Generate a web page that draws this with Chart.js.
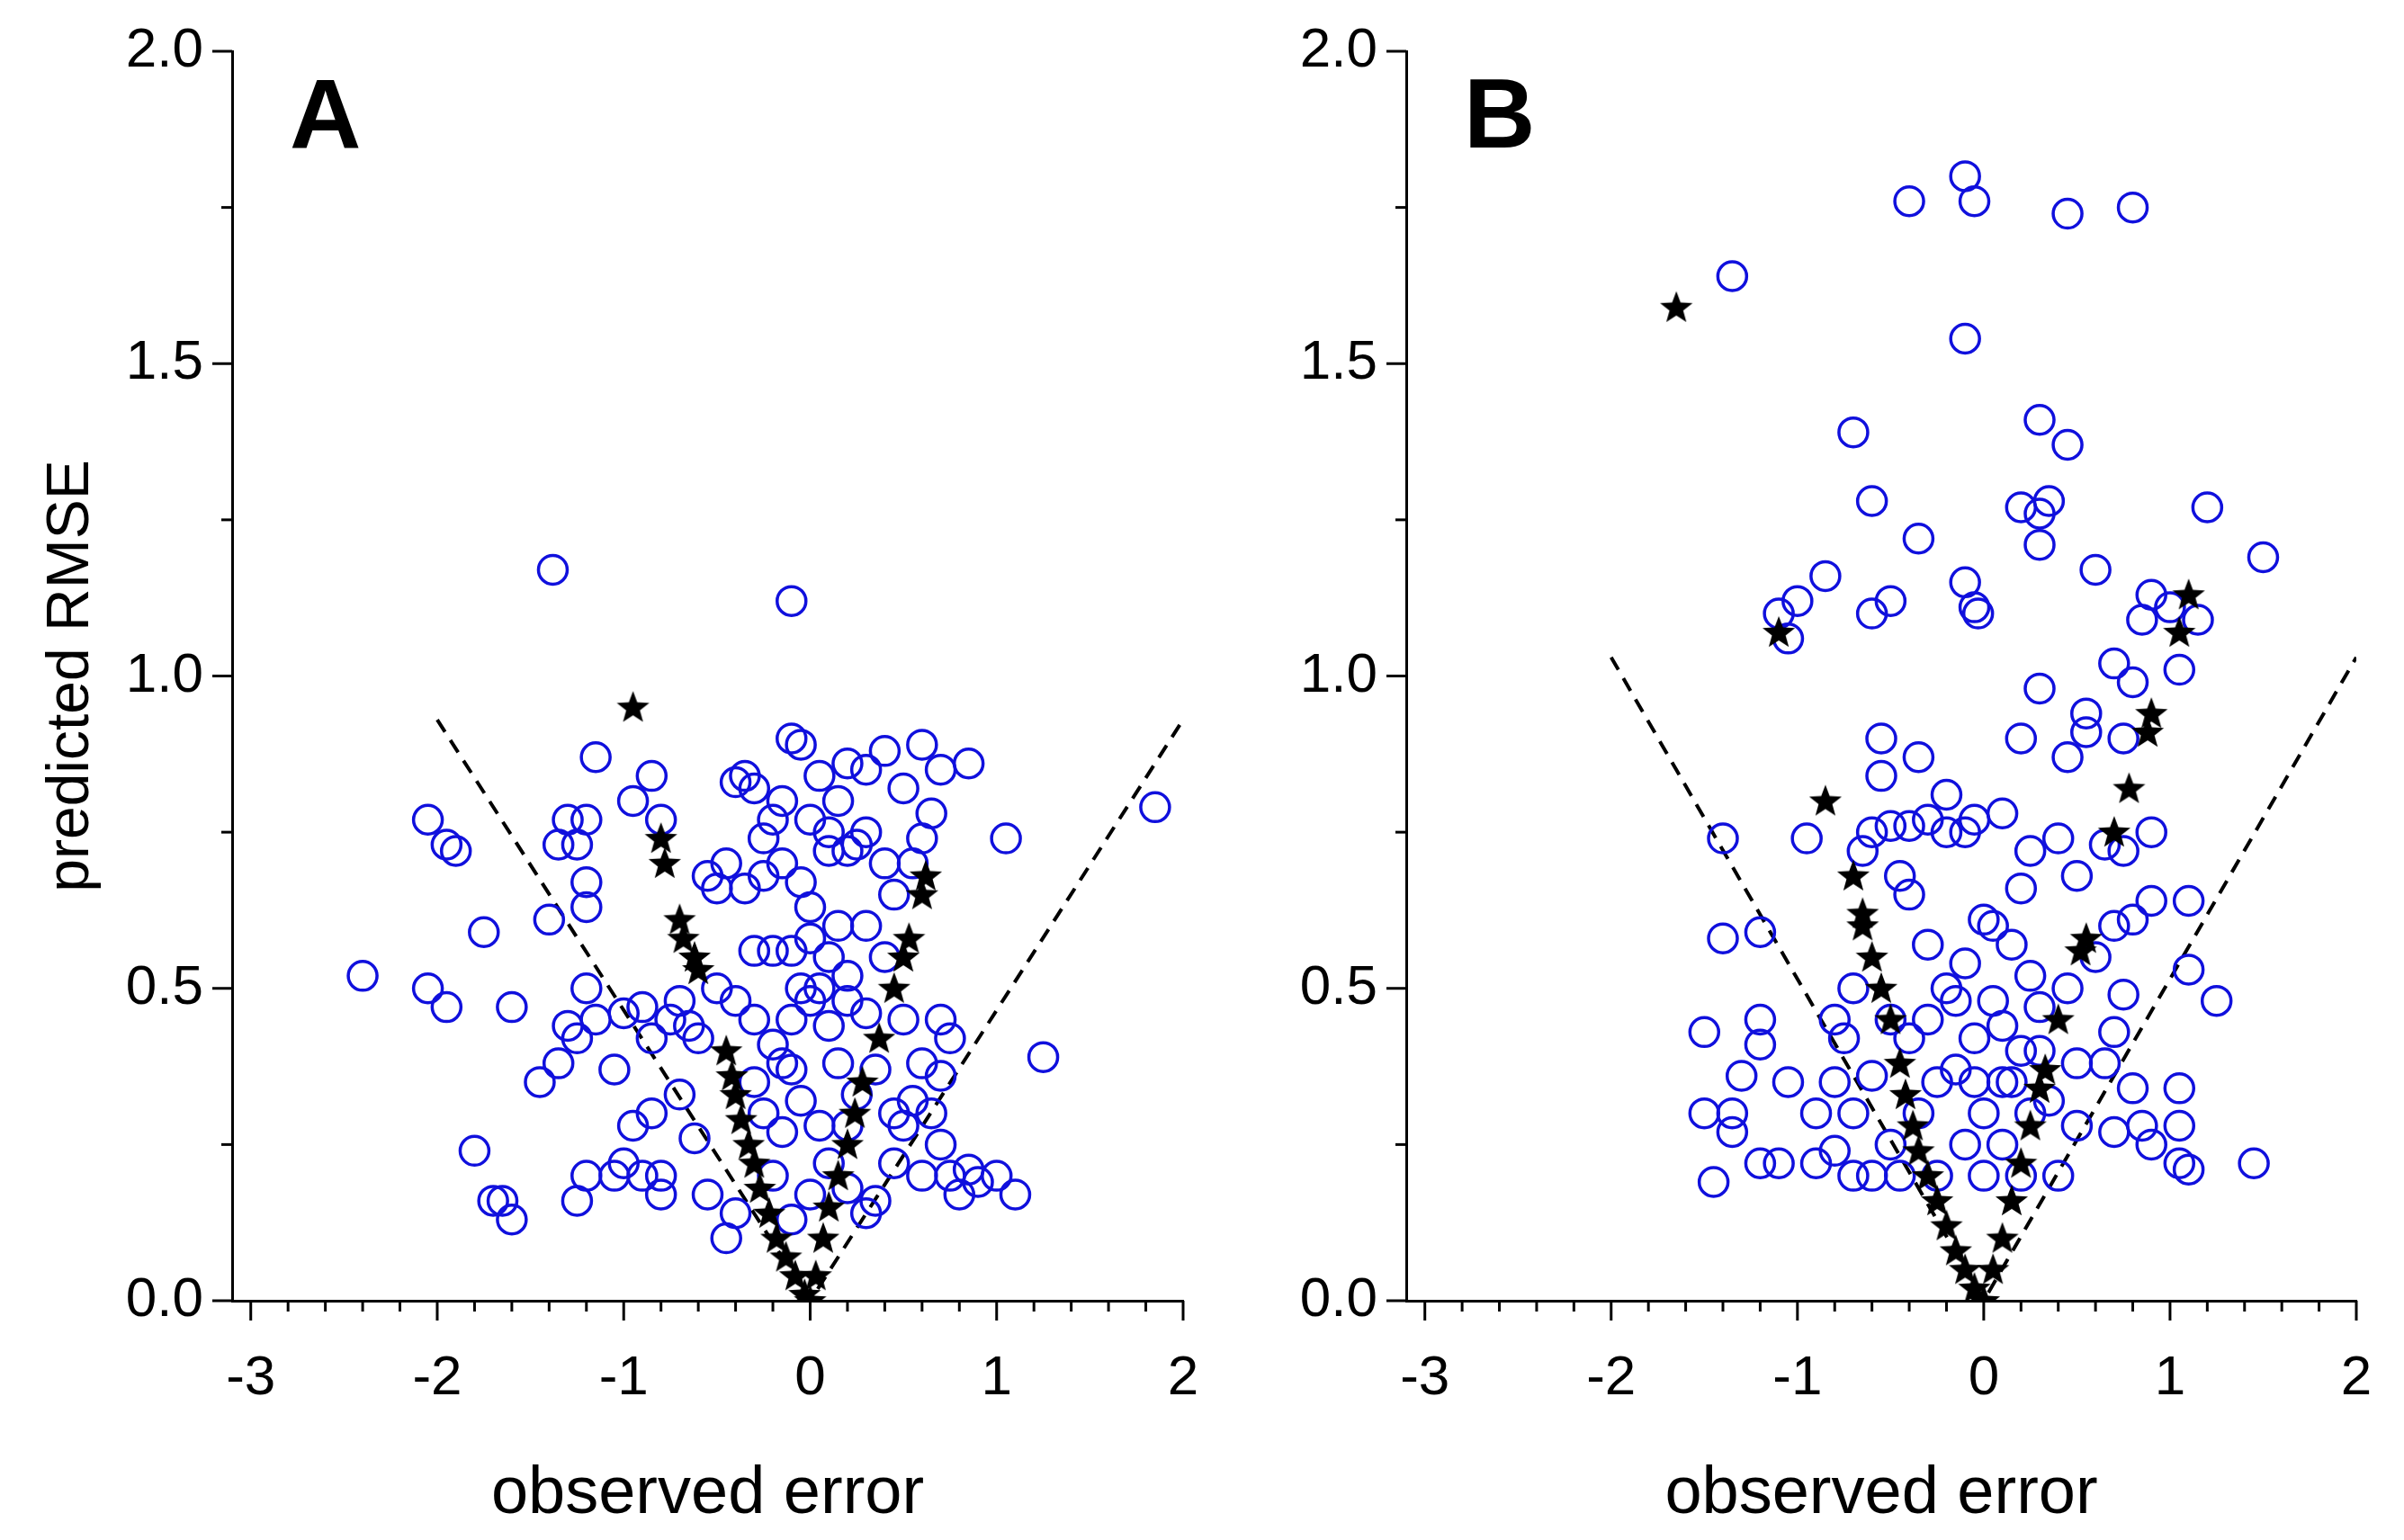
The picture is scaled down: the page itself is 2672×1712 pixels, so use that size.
<!DOCTYPE html>
<html>
<head>
<meta charset="utf-8">
<script src="https://cdn.jsdelivr.net/npm/chart.js@4.4.0/dist/chart.umd.min.js"></script>
<style>
  body { margin:0; background:#fff; }
  .panel { position:absolute; top:0; width:1336px; height:1712px; }
</style>
</head>
<body>
<div class="panel" style="left:0"><canvas id="chartA"></canvas></div>
<div class="panel" style="left:1336px"><canvas id="chartB"></canvas></div>
<script>
// panel A: open circles [observed error, predicted RMSE]
const circlesA = [
  [-1.38,1.17],[-0.1,1.12],[1.85,0.79],[-2.4,0.52],[-2.05,0.77],[-1.95,0.73],[-1.9,0.72],[-2.05,0.5],[-1.95,0.47],
  [-1.75,0.59],[-1.6,0.47],[-1.8,0.24],[-1.7,0.16],[-1.6,0.13],[-1.65,0.16],[-1.45,0.35],[-1.4,0.61],[-1.35,0.73],
  [-1.3,0.77],[-1.2,0.77],[-1.25,0.73],[-1.15,0.87],[-1.2,0.67],[-1.2,0.63],[-1.3,0.44],[-1.25,0.42],[-1.35,0.38],
  [-1.2,0.5],[-1.15,0.45],[-1.05,0.37],[-1.25,0.16],[-1.2,0.2],[-1.05,0.2],[-1.0,0.22],[-0.9,0.2],[-0.8,0.17],
  [-0.8,0.2],[-0.95,0.8],[-0.85,0.84],[-0.8,0.77],[-0.75,0.45],[-0.7,0.48],[-0.65,0.44],[-0.6,0.42],[-0.7,0.33],
  [-0.62,0.26],[-0.55,0.17],[-0.45,0.1],[-0.4,0.14],[-0.5,0.66],[-0.55,0.68],[-0.45,0.7],[-0.4,0.83],[-0.35,0.84],
  [-0.3,0.82],[-0.25,0.74],[-0.2,0.77],[-0.15,0.8],[-0.1,0.9],[-0.05,0.89],[0.0,0.77],[0.05,0.84],[0.1,0.75],
  [0.15,0.8],[0.2,0.86],[0.3,0.85],[0.4,0.88],[0.5,0.82],[0.6,0.89],[0.7,0.85],[0.65,0.78],[0.6,0.74],[0.55,0.7],
  [0.45,0.65],[0.4,0.7],[0.3,0.75],[0.25,0.73],[0.2,0.72],[0.1,0.72],[0.0,0.63],[-0.05,0.67],[-0.15,0.7],
  [-0.25,0.68],[-0.35,0.66],[-0.3,0.56],[-0.2,0.56],[-0.1,0.56],[0.0,0.58],[0.1,0.55],[0.2,0.52],[0.3,0.6],
  [0.4,0.55],[0.5,0.45],[0.6,0.38],[0.7,0.45],[0.75,0.42],[0.7,0.36],[0.65,0.3],[0.7,0.25],[0.75,0.2],[0.8,0.17],
  [0.85,0.21],[0.9,0.19],[1.0,0.2],[1.1,0.17],[1.25,0.39],[1.05,0.74],[0.85,0.86],[0.6,0.2],[0.5,0.28],[0.45,0.22],
  [0.35,0.16],[0.3,0.14],[0.2,0.18],[0.1,0.22],[0.0,0.17],[-0.1,0.13],[-0.2,0.2],[-0.25,0.3],[-0.3,0.35],
  [-0.2,0.41],[-0.1,0.45],[0.0,0.48],[0.1,0.44],[0.15,0.38],[0.25,0.33],[-0.05,0.32],[-0.15,0.27],[0.05,0.28],
  [-0.4,0.48],[-0.5,0.5],[-0.85,0.42],[-0.9,0.47],[-1.0,0.46],[-0.95,0.28],[-0.85,0.3],[-0.1,0.37],[0.2,0.28],
  [0.35,0.37],[0.45,0.3],[0.55,0.32],[0.3,0.46],[0.2,0.48],[0.15,0.6],[-0.05,0.5],[0.05,0.5],[-0.3,0.45],[-0.15,0.38]
];
const starsA = [
  [-0.95,0.95],[-0.8,0.74],[-0.78,0.7],[-0.7,0.61],[-0.68,0.58],[-0.62,0.55],[-0.6,0.53],[-0.45,0.4],[-0.42,0.36],
  [-0.4,0.33],[-0.37,0.29],[-0.33,0.25],[-0.3,0.22],[-0.27,0.18],[-0.22,0.14],[-0.18,0.1],[-0.13,0.07],[-0.08,0.04],
  [-0.03,0.01],[0,0],[0.03,0.04],[0.07,0.1],[0.1,0.15],[0.15,0.2],[0.2,0.25],[0.24,0.3],[0.28,0.35],[0.37,0.42],
  [0.45,0.5],[0.5,0.55],[0.53,0.58],[0.6,0.65],[0.62,0.68]
];
const dashA = [[-2,0.93],[0,0],[2,0.93]];

// panel B
const circlesB = [
  [-0.1,1.8],[-0.05,1.76],[-0.4,1.76],[0.45,1.74],[0.8,1.75],[-1.35,1.64],[-0.1,1.54],[-0.7,1.39],[0.3,1.41],
  [0.45,1.37],[-0.6,1.28],[0.2,1.27],[0.35,1.28],[0.3,1.26],[0.3,1.21],[1.2,1.27],[1.5,1.19],[-0.35,1.22],[0.6,1.17],
  [-0.85,1.16],[-0.1,1.15],[-1.0,1.12],[-0.5,1.12],[-0.6,1.1],[-0.05,1.11],[-0.03,1.1],[0.9,1.13],[1.0,1.11],
  [0.85,1.09],[1.15,1.09],[-1.1,1.1],[-1.05,1.06],[1.05,1.01],[0.7,1.02],[0.3,0.98],[0.8,0.99],[-0.55,0.9],
  [-0.55,0.84],[-0.35,0.87],[-0.2,0.81],[0.55,0.94],[0.55,0.91],[0.45,0.87],[0.75,0.9],[0.2,0.9],[0.9,0.75],
  [0.75,0.72],[0.65,0.73],[0.4,0.74],[0.5,0.68],[0.25,0.72],[0.2,0.66],[0.1,0.78],[-0.05,0.77],[-0.1,0.75],
  [-0.2,0.75],[-0.3,0.77],[-0.4,0.76],[-0.5,0.76],[-0.6,0.75],[-0.65,0.72],[-0.45,0.68],[-0.4,0.65],[-1.4,0.74],
  [-1.2,0.59],[-1.4,0.58],[-1.5,0.43],[-1.2,0.45],[-1.2,0.41],[-0.95,0.74],[-1.05,0.35],[-1.3,0.36],[-1.35,0.3],
  [-1.5,0.3],[-1.35,0.27],[-1.45,0.19],[-1.2,0.22],[-1.1,0.22],[-0.9,0.3],[-0.8,0.45],[-0.75,0.42],[-0.7,0.5],
  [-0.8,0.24],[-0.7,0.2],[-0.6,0.2],[-0.5,0.25],[-0.6,0.36],[-0.3,0.57],[-0.2,0.5],[-0.1,0.54],[0.0,0.61],
  [0.05,0.6],[0.15,0.57],[0.25,0.52],[0.3,0.47],[0.45,0.5],[0.6,0.55],[0.7,0.6],[0.8,0.61],[0.9,0.64],[1.1,0.64],
  [0.75,0.49],[0.7,0.43],[0.65,0.38],[0.8,0.34],[0.7,0.27],[0.85,0.28],[0.9,0.25],[1.05,0.34],[1.05,0.28],
  [1.05,0.22],[1.1,0.21],[1.1,0.53],[1.25,0.48],[1.45,0.22],[0.5,0.28],[0.4,0.2],[0.35,0.32],[0.2,0.4],[0.1,0.44],
  [-0.05,0.42],[-0.15,0.37],[-0.25,0.35],[-0.35,0.3],[-0.25,0.2],[-0.1,0.25],[0.0,0.3],[0.1,0.25],[0.2,0.2],
  [0.15,0.35],[0.3,0.4],[0.5,0.38],[-0.4,0.42],[-0.5,0.45],[-0.3,0.45],[-0.15,0.48],[0.05,0.48],[-0.7,0.3],
  [-0.8,0.35],[-0.9,0.22],[-0.45,0.2],[0.0,0.2],[0.25,0.3],[0.1,0.35],[-0.05,0.35]
];
const starsB = [
  [-1.65,1.59],[-1.1,1.07],[1.1,1.13],[1.05,1.07],[0.9,0.94],[0.88,0.91],[0.78,0.82],[0.7,0.75],[0.55,0.58],
  [0.52,0.56],[0.4,0.45],[-0.85,0.8],[-0.7,0.68],[-0.65,0.62],[-0.65,0.6],[-0.6,0.55],[-0.55,0.5],[-0.5,0.45],
  [-0.45,0.38],[-0.42,0.33],[-0.38,0.28],[-0.35,0.24],[-0.3,0.2],[-0.25,0.16],[-0.2,0.12],[-0.15,0.08],[-0.1,0.05],
  [-0.05,0.02],[0,0],[0.05,0.05],[0.1,0.1],[0.15,0.16],[0.2,0.22],[0.25,0.28],[0.3,0.34],[0.33,0.37]
];
const dashB = [[-2,1.03],[0,0],[2,1.03]];

const xTickLabels = [-3,-2,-1,0,1,2];
const yTickLabels = [0,0.5,1,1.5,2];

// filled star image for the star points
const starImg = document.createElement('canvas');
starImg.width = 38; starImg.height = 38;
(function(){
  const c = starImg.getContext('2d');
  c.beginPath();
  for (let i = 0; i < 10; i++) {
    const r = i % 2 == 0 ? 19 : 8;
    const a = -Math.PI/2 + i*Math.PI/5;
    c.lineTo(19 + r*Math.cos(a), 20 + r*Math.sin(a));
  }
  c.closePath();
  c.fillStyle = '#000';
  c.fill();
})();

const FONT = '"Liberation Sans", Arial, sans-serif';
const pts = arr => arr.map(p => ({x:p[0], y:p[1]}));

// draws tick marks, axis titles and panel letter
const decor = {
  id: 'decor',
  afterDraw(chart, args, opts) {
    const ctx = chart.ctx, xs = chart.scales.x, ys = chart.scales.y;
    ctx.save();
    ctx.strokeStyle = '#000';
    ctx.lineWidth = 3;
    for (let i = -15; i <= 10; i++) {
      const px = xs.getPixelForValue(i/5);
      const len = i % 5 == 0 ? 22 : 12;
      ctx.beginPath(); ctx.moveTo(px, ys.bottom); ctx.lineTo(px, ys.bottom + len); ctx.stroke();
    }
    for (let i = 0; i <= 8; i++) {
      const py = ys.getPixelForValue(i/4);
      const len = i % 2 == 0 ? 22 : 12;
      ctx.beginPath(); ctx.moveTo(xs.left, py); ctx.lineTo(xs.left - len, py); ctx.stroke();
    }
    ctx.fillStyle = '#000';
    ctx.textAlign = 'center';
    ctx.textBaseline = 'middle';
    ctx.font = '74px ' + FONT;
    ctx.fillText('observed error', (xs.left + xs.right)/2, 1662);
    if (opts.yTitle) {
      ctx.translate(80, ys.getPixelForValue(1.0));
      ctx.rotate(-Math.PI/2);
      ctx.font = '66px ' + FONT;
      ctx.fillText('predicted RMSE', 0, 0);
      ctx.setTransform(1,0,0,1,0,0);
    }
    ctx.font = 'bold 110px ' + FONT;
    ctx.textAlign = 'left';
    ctx.fillText(opts.letter, xs.left + 64, 134);
    ctx.restore();
  }
};

function makeChart(id, circles, stars, dash, yWidth, padRight, letter, yTitle) {
  new Chart(document.getElementById(id), {
    type: 'scatter',
    data: {
      datasets: [
        { data: pts(dash), showLine: true, borderColor: '#000', borderWidth: 4, borderDash: [16,11],
          pointRadius: 0, order: 3 },
        { data: pts(circles), pointStyle: 'circle', pointRadius: 16, borderColor: '#1010dd',
          backgroundColor: 'rgba(0,0,0,0)', borderWidth: 3.5, order: 2 },
        { data: pts(stars), pointStyle: starImg, pointRadius: 19, order: 1 }
      ]
    },
    options: {
      responsive: false, animation: false, devicePixelRatio: 1,
      layout: { padding: { top: 57, right: padRight, left: 0, bottom: 0 } },
      plugins: { legend: { display: false }, tooltip: { enabled: false }, decor: { letter, yTitle } },
      scales: {
        x: {
          type: 'linear', min: -3.1, max: 2,
          afterBuildTicks: s => { s.ticks = xTickLabels.map(v => ({value: v})); },
          afterFit: s => { s.height = 266; s.paddingLeft = 0; s.paddingRight = 0; },
          grid: { display: false },
          border: { color: '#000', width: 3 },
          ticks: { color: '#000', font: { size: 62, family: FONT }, padding: 42, maxRotation: 0,
                   callback: v => String(v) }
        },
        y: {
          min: 0, max: 2,
          afterBuildTicks: s => { s.ticks = yTickLabels.map(v => ({value: v})); },
          afterFit: s => { s.width = yWidth; s.paddingTop = 0; s.paddingBottom = 0; },
          grid: { display: false },
          border: { color: '#000', width: 3 },
          ticks: { color: '#000', font: { size: 62, family: FONT }, padding: 24,
                   callback: v => v.toFixed(1) }
        }
      }
    },
    plugins: [decor]
  });
}

for (const id of ['chartA','chartB']) {
  const c = document.getElementById(id);
  c.width = 1336; c.height = 1712;
}
makeChart('chartA', circlesA, starsA, dashA, 258, 21, 'A', true);
makeChart('chartB', circlesB, starsB, dashB, 227, 53, 'B', false);
</script>
</body>
</html>
